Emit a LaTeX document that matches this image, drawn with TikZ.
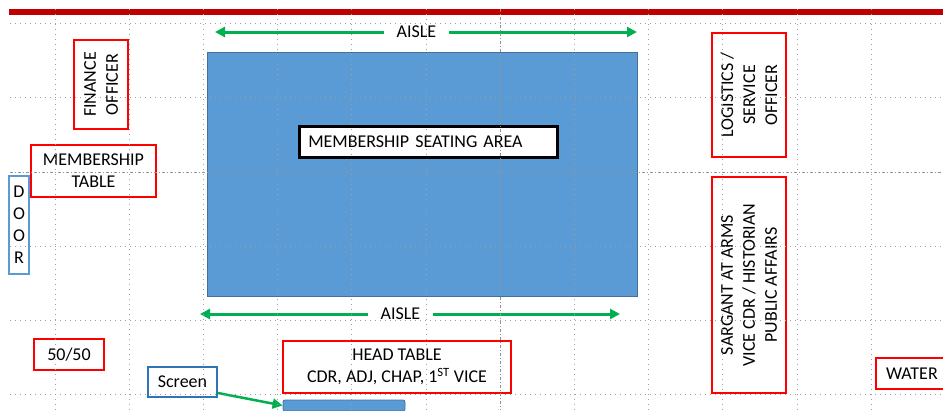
\documentclass[tikz,border=0pt]{standalone}
\usepackage{fontspec}
\setmainfont{Carlito}
\usepackage{tikz}
\usetikzlibrary{arrows.meta,positioning}
\definecolor{boxred}{HTML}{FF0000}
\definecolor{barred}{HTML}{C00000}
\definecolor{seatblue}{HTML}{5B9BD5}
\definecolor{seatedge}{HTML}{41719C}
\definecolor{doorblue}{HTML}{5B9BD5}
\definecolor{screenblue}{HTML}{2E75B6}
\definecolor{aislegreen}{HTML}{00B050}

\begin{document}
\begin{tikzpicture}[x=1pt, y=-1pt]
% STYLES
\tikzset{
    redbox/.style={draw=boxred, line width=2pt, fill=white, inner sep=0pt,
    align=center, font=\fontsize{18}{22}\selectfont},
    vredbox/.style={redbox, rotate=90},
    bluebox/.style={draw=doorblue, line width=2pt, fill=white, inner sep=0pt,
    align=center, font=\fontsize{18}{22}\selectfont},
    seatarea/.style={draw=seatedge, line width=0.8pt, fill=seatblue, inner sep=0pt},
    aisle/.style={->, draw=aislegreen, line width=3pt,
    >={Triangle[length=10pt,width=10pt]}},
    aislelabel/.style={inner xsep=12.5pt, inner ysep=0pt, font=\fontsize{18}{22}\selectfont},
    gridline/.style={gray!75, line width=0.8pt, dash pattern=on 1pt off 4pt},
    guideline/.style={gray!85, line width=0.8pt, dash pattern=on 3pt off 2pt on 1pt off 2pt}
}
\useasboundingbox (0,0) rectangle (943,410);

% seating area and aisles
\node [seatarea, minimum width=430pt, minimum height=244pt] (Seating) at (422,174) {};
\node [draw=black, line width=2.5pt, fill=white, inner xsep=9pt, inner ysep=0pt,
  minimum height=30.6pt, text width=240pt, align=left,
  font=\fontsize{18}{22}\selectfont] (SeatLabel) at (428.3,142) {MEMBERSHIP SEATING AREA};
\node [aislelabel] (AisleTop) at (416.5,32) {AISLE};
\coordinate (TopLeft) at (215,32);
\coordinate (TopRight) at (637,32);
\node [aislelabel] (AisleBottom) at (400.5,314) {AISLE};
\coordinate (BottomLeft) at (200,314);
\coordinate (BottomRight) at (620,314);

% tables and officers
\node [vredbox, minimum width=89pt, minimum height=54pt] (Finance) at (101,84.5) {FINANCE\\OFFICER};
\node [redbox, minimum width=125pt, minimum height=52pt] (MemberTable) at (93.5,171) {MEMBERSHIP\\TABLE};
\node [bluebox, minimum width=20pt, minimum height=98pt] (Door) at (19,225) {D\\O\\O\\R};
\node [redbox, minimum width=70pt, minimum height=31pt] (Fifty) at (69,354.5) {50/50};
\node [bluebox, draw=screenblue, minimum width=69pt, minimum height=30pt] (ScreenLabel) at (182.5,382) {Screen};
\node [seatarea, rounded corners=2pt, minimum width=122pt, minimum height=11pt] (ScreenBar) at (344,405.5) {};
\node [redbox, minimum width=228pt, minimum height=52pt] (HeadTable) at (397,367)
  {HEAD TABLE\\CDR, ADJ, CHAP, 1\textsuperscript{ST} VICE};
\node [vredbox, minimum width=124pt, minimum height=74pt] (Logistics) at (749,95)
  {LOGISTICS /\\SERVICE\\OFFICER};
\node [vredbox, minimum width=216pt, minimum height=74pt] (Sargant) at (749,285)
  {SARGANT AT ARMS\\VICE CDR / HISTORIAN\\PUBLIC AFFAIRS};
\node [redbox, minimum width=72pt, minimum height=31pt] (Water) at (912,373.5) {WATER};

% Draw the aisle arrows
\path
   (AisleTop.west) edge[aisle] (TopLeft)
   (AisleTop.east) edge[aisle] (TopRight)
   (AisleBottom.west) edge[aisle] (BottomLeft)
   (AisleBottom.east) edge[aisle] (BottomRight);
\draw[aisle, line width=2.5pt] ([yshift=5pt]ScreenLabel.south east) -- (ScreenBar.west);

% wall and grid
\fill[barred] (9,9) rectangle (943,15);
\foreach \gy in {23,97.5,246,320,394}
  \draw[gridline] (10,\gy) -- (943,\gy);
\draw[guideline] (10,172) -- (943,172);
\foreach \gx in {55,129.2,203.4,277.6,351.8,426,574.4,648.6,722.8,797,871.2}
  \draw[gridline] (\gx,9) -- (\gx,410);
\draw[guideline] (500.2,9) -- (500.2,410);
\end{tikzpicture}
\end{document}
